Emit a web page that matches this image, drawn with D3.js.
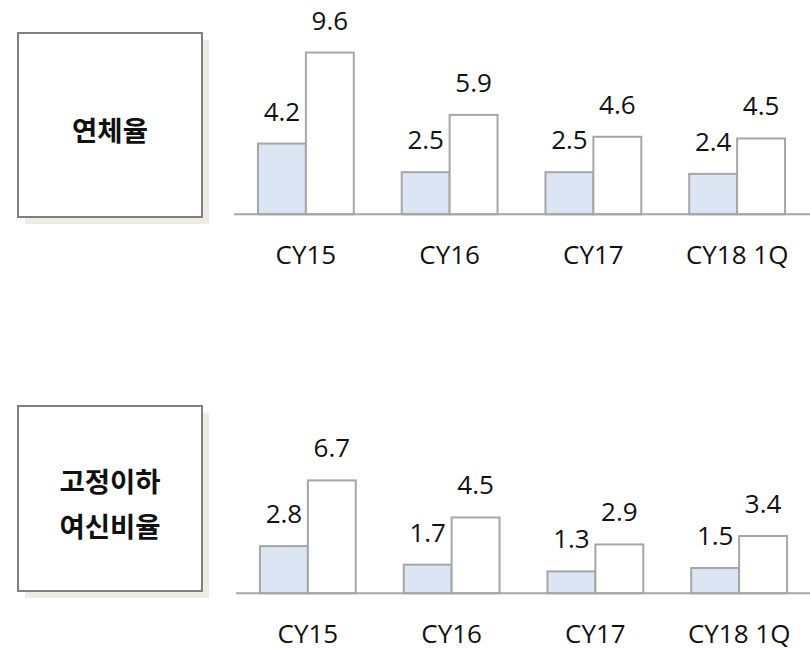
<!DOCTYPE html>
<html>
<head>
<meta charset="utf-8">
<script src="https://cdn.jsdelivr.net/npm/d3@7"></script>
<style>
  html, body { margin: 0; padding: 0; background: #fff; }
  svg { display: block; }
</style>
</head>
<body>
<div id="chart"></div>
<script>
const categories = ['CY15', 'CY16', 'CY17', 'CY18 1Q'];
const seriesKeys = ['blue', 'white'];

// 연체율
const delinquencyBlue = [4.2, 2.5, 2.5, 2.4];
const delinquencyWhite = [9.6, 5.9, 4.6, 4.5];

// 고정이하 여신비율
const nplBlue = [2.8, 1.7, 1.3, 1.5];
const nplWhite = [6.7, 4.5, 2.9, 3.4];

const width = 810;
const height = 650;
const pxPerUnit = 16.85;

const fills = { blue: '#dbe5f4', white: '#ffffff' };
const barStroke = '#a6a6a6';

const svg = d3.select('#chart').append('svg')
  .attr('width', width)
  .attr('height', height);

// builds rows of { cat, blue, white }
const toRows = (a, b) => categories.map((c, i) => ({ cat: c, blue: a[i], white: b[i] }));

const panels = [
  {
    title: ['연체율'],
    rows: toRows(delinquencyBlue, delinquencyWhite),
    box: { x: 18, y: 33, w: 184, h: 184 },
    baseline: 214.3,
    xRange: [234, 809],
  },
  {
    title: ['고정이하', '여신비율'],
    rows: toRows(nplBlue, nplWhite),
    box: { x: 18, y: 406, w: 184, h: 185 },
    baseline: 593.3,
    xRange: [236, 811],
  },
];

const drawPanel = (p) => {
  const g = svg.append('g');

  // title box with shadow
  g.append('rect')
    .attr('x', p.box.x + 7).attr('y', p.box.y + 7)
    .attr('width', p.box.w).attr('height', p.box.h)
    .attr('fill', '#efece1');
  g.append('rect')
    .attr('x', p.box.x).attr('y', p.box.y)
    .attr('width', p.box.w).attr('height', p.box.h)
    .attr('fill', '#fff')
    .attr('stroke', '#808080')
    .attr('stroke-width', 2);

  const lineGap = 45;
  const cy = p.box.y + p.box.h / 2 + 4;
  g.selectAll('text.title')
    .data(p.title)
    .enter()
    .append('text')
    .attr('class', 'title')
    .attr('x', p.box.x + p.box.w / 2)
    .attr('y', (d, i) => cy + (i - (p.title.length - 1) / 2) * lineGap)
    .attr('text-anchor', 'middle')
    .attr('dominant-baseline', 'central')
    .attr('font-family', '"Noto Sans CJK KR", sans-serif')
    .attr('font-weight', 'bold')
    .attr('font-size', 27.5)
    .attr('fill', '#111')
    .text(d => d);

  const x0 = d3.scaleBand()
    .domain(categories)
    .range(p.xRange)
    .padding(0);

  const x1 = d3.scaleBand()
    .domain(seriesKeys)
    .range([0, x0.bandwidth()])
    .paddingInner(0)
    .paddingOuter(0.5);

  const y = d3.scaleLinear()
    .domain([0, 10])
    .range([p.baseline, p.baseline - 10 * pxPerUnit]);

  const groups = g.selectAll('g.grp')
    .data(p.rows)
    .enter()
    .append('g')
    .attr('class', 'grp')
    .attr('transform', d => `translate(${x0(d.cat)},0)`);

  const bars = groups.selectAll('g.bar')
    .data(d => seriesKeys.map(k => ({ key: k, value: d[k] })))
    .enter()
    .append('g')
    .attr('class', 'bar');

  bars.append('rect')
    .attr('x', d => x1(d.key))
    .attr('y', d => y(d.value))
    .attr('width', x1.bandwidth())
    .attr('height', d => y(0) - y(d.value))
    .attr('fill', d => fills[d.key])
    .attr('stroke', barStroke)
    .attr('stroke-width', 2);

  bars.append('text')
    .attr('x', d => x1(d.key) + x1.bandwidth() / 2)
    .attr('y', d => y(d.value) - 23)
    .attr('text-anchor', 'middle')
    .attr('font-family', '"Open Sans", sans-serif')
    .attr('font-size', 26)
    .attr('fill', '#111')
    .text(d => d.value.toFixed(1));

  // x axis
  const axis = g.append('g')
    .attr('transform', `translate(0,${p.baseline})`)
    .call(d3.axisBottom(x0).tickSize(0).tickPadding(31));
  axis.select('.domain')
    .attr('d', `M${p.xRange[0]},0H${width}`)
    .attr('stroke', barStroke)
    .attr('stroke-width', 2);
  axis.selectAll('text')
    .attr('font-family', '"Open Sans", sans-serif')
    .attr('font-size', 26)
    .attr('fill', '#111');
};

panels.forEach(drawPanel);
</script>
</body>
</html>
